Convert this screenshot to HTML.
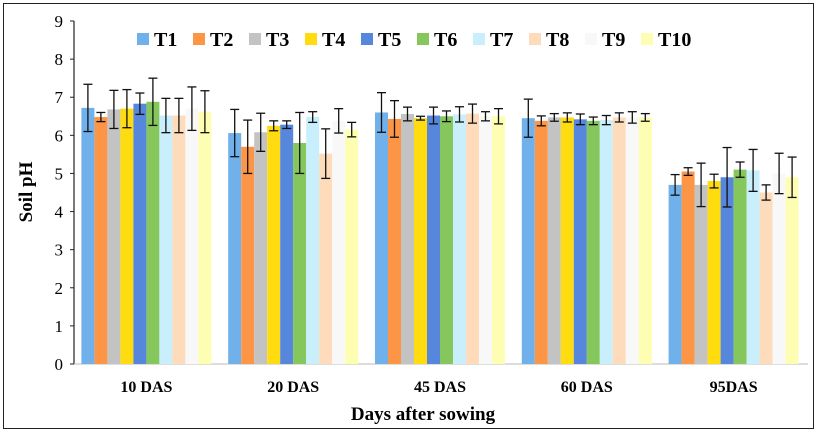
<!DOCTYPE html>
<html><head><meta charset="utf-8"><style>
body{margin:0;background:#fff}
svg{display:block;font-family:"Liberation Serif",serif}
</style></head><body>
<svg id="chart" width="817" height="432" viewBox="0 0 817 432">
<rect x="3.5" y="3.5" width="810" height="425" fill="#fff" stroke="#222" stroke-width="1"/>
<g id="axes"></g><g id="bars"></g><g id="legend"></g>
<text transform="translate(32,192) rotate(-90)" text-anchor="middle" font-size="19" font-weight="bold">Soil pH</text>
<text x="423" y="420" text-anchor="middle" font-size="19" font-weight="bold">Days after sowing</text>
</svg>
<script>
const categories=["10 DAS","20 DAS","45 DAS","60 DAS","95DAS"];
const seriesNames=["T1","T2","T3","T4","T5","T6","T7","T8","T9","T10"];
const colors=["#70b1ec","#fd9546","#c3c3c3","#ffdc10","#5787dc","#86c75d","#c9effd","#fedbbb","#f8f8f8","#fdfeb1"];
const values=[
[6.72,6.48,6.68,6.70,6.83,6.88,6.52,6.52,6.70,6.62],
[6.06,5.70,6.08,6.25,6.28,5.80,6.48,5.52,6.38,6.15],
[6.60,6.43,6.56,6.45,6.52,6.50,6.55,6.57,6.50,6.50],
[6.45,6.38,6.47,6.47,6.42,6.38,6.40,6.47,6.47,6.47],
[4.70,5.05,4.70,4.80,4.90,5.10,5.08,4.50,5.00,4.90]];
const errors=[
[0.62,0.12,0.50,0.50,0.28,0.62,0.45,0.45,0.57,0.55],
[0.62,0.70,0.50,0.13,0.10,0.80,0.14,0.65,0.32,0.19],
[0.52,0.48,0.18,0.05,0.22,0.14,0.20,0.25,0.12,0.20],
[0.50,0.13,0.10,0.12,0.14,0.10,0.12,0.12,0.15,0.10],
[0.27,0.10,0.57,0.18,0.78,0.20,0.55,0.20,0.53,0.53]];
const yTicks=[0,1,2,3,4,5,6,7,8,9];
const NS="http://www.w3.org/2000/svg";
const x0=74,x1=808,yBase=364,yTop=21,yMax=9;
const y=v=>yBase-(yBase-yTop)*v/yMax;
const gw=(x1-x0)/categories.length, bw=13;
function mk(t,a,p){const e=document.createElementNS(NS,t);for(const k in a)e.setAttribute(k,a[k]);p.appendChild(e);return e;}
const ax=document.getElementById('axes'),bg=document.getElementById('bars'),lg=document.getElementById('legend');
const yl=mk('line',{x1:x0,x2:x0,y1:yTop,y2:yBase,stroke:'#222','stroke-width':1.2},ax);

const xl=mk('line',{x1:x0,x2:x1,y1:yBase,y2:yBase,stroke:'#bbb','stroke-width':1},ax);

yTicks.forEach(t=>{
 const tk=mk('line',{x1:x0-4,x2:x0,y1:y(t),y2:y(t),stroke:'#222'},ax);
 
 const tx=mk('text',{x:x0-11,y:y(t)+6,'text-anchor':'end','font-size':17},ax);tx.textContent=t;
 
});
categories.forEach((c,i)=>{
 const cx=x0+gw*(i+0.5)-1;
 const tx=mk('text',{x:cx,y:yBase+28,'text-anchor':'middle','font-size':16,'font-weight':'bold'},ax);tx.textContent=c;
 
 const start=cx-bw*seriesNames.length/2;
 values[i].forEach((v,j)=>{
  const bx=start+j*bw;
  const r=mk('rect',{x:bx,y:y(v),width:bw,height:yBase-y(v),fill:colors[j]},bg);
  
  
  const e=errors[i][j],mx=bx+bw/2;
  const g=mk('g',{stroke:'#111','stroke-width':1.3},bg);
  
  
  mk('line',{x1:mx,x2:mx,y1:y(v+e),y2:y(v-e)},g);
  mk('line',{x1:mx-4.5,x2:mx+4.5,y1:y(v+e),y2:y(v+e)},g);
  mk('line',{x1:mx-4.5,x2:mx+4.5,y1:y(v-e),y2:y(v-e)},g);
 });
});
seriesNames.forEach((n,j)=>{
 const lx=137+j*56;
 const g=mk('g',{},lg);
 
 
 mk('rect',{x:lx,y:33,width:12,height:12,fill:colors[j]},g);
 const t=mk('text',{x:lx+17,y:46,'font-size':20,'font-weight':'bold'},g);t.textContent=n;
});
</script>
</body></html>
